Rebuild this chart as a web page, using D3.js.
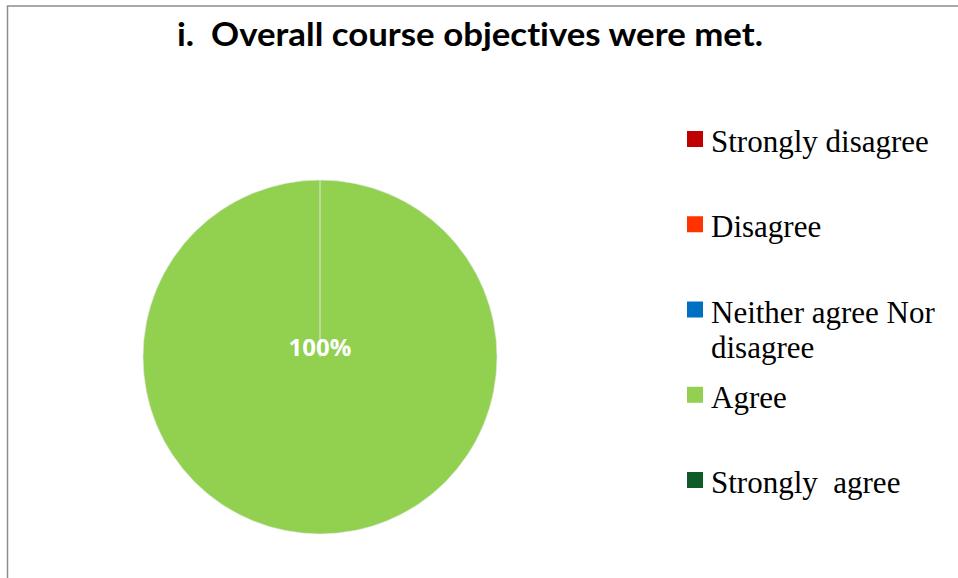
<!DOCTYPE html>
<html>
<head>
<meta charset="utf-8">
<script src="https://cdn.jsdelivr.net/npm/d3@7"></script>
<style>
  body { margin: 0; background: #fff; }
  svg text { white-space: pre; font-variant-ligatures: none; }
</style>
</head>
<body>
<div id="main"></div>
<script>
/// chart data ///
const title = 'i.  Overall course objectives were met.';
const categories = ['Strongly disagree', 'Disagree', 'Neither agree Nor disagree', 'Agree', 'Strongly  agree'];
const values = [0, 0, 0, 100, 0];
const colors = ['#C00000', '#FF3300', '#0070C0', '#92D050', '#0E5A28'];
// legend text split in lines as in the picture
const legendLines = [['Strongly disagree'], ['Disagree'], ['Neither agree Nor', 'disagree'], ['Agree'], ['Strongly  agree']];

const w = 958, h = 578;

const svg = d3.select('#main')
    .append('svg')
    .attr('width', w)
    .attr('height', h);

// frame of the chart area
svg.append('rect')
    .attr('x', 7.5)
    .attr('y', 6)
    .attr('width', w + 20)
    .attr('height', h + 20)
    .attr('fill', 'none')
    .attr('stroke', '#8c8c8c')
    .attr('stroke-width', 1.5);

// title
svg.append('text')
    .attr('x', 177)
    .attr('y', 46)
    .attr('textLength', 586)
    .attr('lengthAdjust', 'spacingAndGlyphs')
    .style('font-family', 'Lato, "Open Sans", sans-serif')
    .style('font-weight', 'bold')
    .style('font-size', '33px')
    .style('fill', '#000')
    .text(title);

/// pie ///
const cx = 320, cy = 357, r = 177;

const pie = d3.pie().sort(null).value(d => d);
const arc = d3.arc().innerRadius(0).outerRadius(r);
const color = d3.scaleOrdinal().domain(categories).range(colors);

const arcs = pie(values);

const g = svg.append('g').attr('transform', `translate(${cx},${cy})`);

g.selectAll('path')
    .data(arcs)
    .enter()
    .append('path')
    .attr('d', arc)
    .attr('fill', (d, i) => color(categories[i]))
    .attr('stroke', '#e6e6e6')
    .attr('stroke-width', 0.6);

// percentage labels, only for slices that have a value
const total = d3.sum(values);
g.selectAll('text.pct')
    .data(arcs.filter(d => d.value > 0))
    .enter()
    .append('text')
    .attr('class', 'pct')
    .attr('x', d => (d.endAngle - d.startAngle) >= 2 * Math.PI - 1e-6 ? 0 : arc.centroid(d)[0])
    .attr('y', d => (d.endAngle - d.startAngle) >= 2 * Math.PI - 1e-6 ? -1 : arc.centroid(d)[1])
    .attr('text-anchor', 'middle')
    .style('font-family', '"Open Sans", sans-serif')
    .style('font-weight', 'bold')
    .style('font-size', '24px')
    .style('fill', '#fff')
    .text(d => Math.round(d.value / total * 100) + '%');

/// legend ///
const legendY = d3.scalePoint()
    .domain(categories)
    .range([152, 493]);

const legend = svg.append('g').attr('class', 'legend');

const items = legend.selectAll('g')
    .data(categories)
    .enter()
    .append('g')
    .attr('class', 'legend-item');

items.append('rect')
    .attr('x', 687)
    .attr('y', d => legendY(d) - 21)
    .attr('width', 16)
    .attr('height', 16)
    .attr('fill', d => color(d));

items.append('text')
    .attr('x', 711)
    .attr('y', d => legendY(d))
    .style('font-family', '"Liberation Serif", "Times New Roman", serif')
    .style('font-size', '31px')
    .style('fill', '#000')
    .selectAll('tspan')
    .data((d, i) => legendLines[i])
    .enter()
    .append('tspan')
    .attr('x', 711)
    .attr('dy', (d, i) => i === 0 ? 0 : 35)
    .text(d => d);
</script>
</body>
</html>
